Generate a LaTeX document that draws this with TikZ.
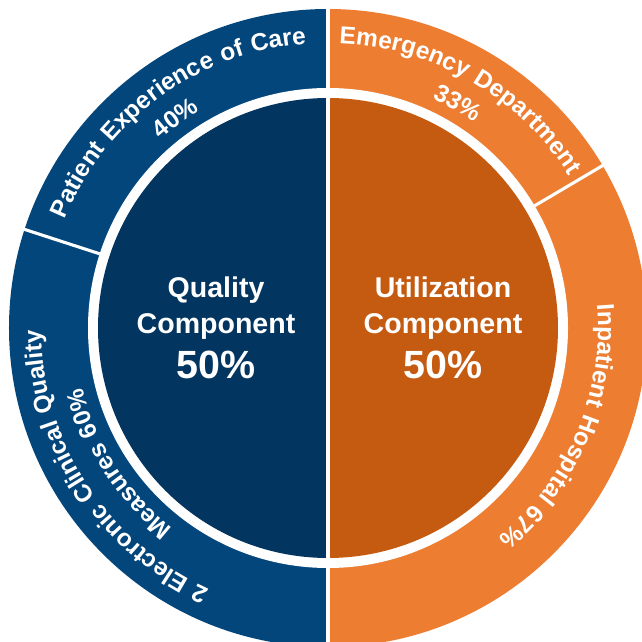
\documentclass[tikz,border=0pt]{standalone}
\usepackage{fontspec}
\setmainfont{Liberation Sans}
\newfontfamily\ringfont[LetterSpace=6]{Liberation Sans}
\newcommand\ringsize{\ringfont\bfseries\fontsize{17.4}{21}\selectfont}
\usetikzlibrary{decorations.text}

\begin{document}
\begin{tikzpicture}[x=0.025cm,y=0.025cm,
  midtext/.style={text=white,font=\bfseries\fontsize{20.3}{24}\selectfont,anchor=base,inner sep=0pt},
  bigtext/.style={midtext,font=\bfseries\fontsize{28}{32}\selectfont},
  ringtext/.style={decorate,decoration={text along path,text align=center,text color=white,text={#1}}},
  gap/.style={draw=white,line width=2.2pt}]
%
\useasboundingbox (-328,-314) rectangle (314,328);
%
\definecolor{cq0}{HTML}{023660}
\definecolor{cq1}{HTML}{03467C}
\definecolor{cu0}{HTML}{C55A11}
\definecolor{cu1}{HTML}{ED7D31}
%
\coordinate (c) at (0,0);
\fill[cq1] (c) -- (90:319) arc[start angle=90,end angle=270,radius=319] -- cycle;
\fill[cu1] (c) -- (-90:319) arc[start angle=-90,end angle=90,radius=319] -- cycle;
\fill[white] (c) circle[radius=240];
\fill[cq0] (c) -- (90:230) arc[start angle=90,end angle=270,radius=230] -- cycle;
\fill[cu0] (c) -- (-90:230) arc[start angle=-90,end angle=90,radius=230] -- cycle;
%
\draw[gap] (90:325) -- (-90:325);
\draw[gap] (162:240) -- (162:325);
\draw[gap] (30.6:240) -- (30.6:325);
%
\path[ringtext={|\ringsize|Patient Experience of Care}] (171:285) arc[start angle=171,end angle=81,radius=285];
\path[ringtext={|\ringsize|40{\%}}] (156:252) arc[start angle=156,end angle=96,radius=252];
\path[ringtext={|\ringsize|Emergency Department}] (105:285) arc[start angle=105,end angle=15,radius=285];
\path[ringtext={|\ringsize|33{\%}}] (90:252) arc[start angle=90,end angle=30,radius=252];
\path[ringtext={|\ringsize|2 Electronic Clinical Quality}] (263:287) arc[start angle=263,end angle=163,radius=287];
\path[ringtext={|\ringsize|Measures 60{\%}}] (258:253) arc[start angle=258,end angle=168,radius=253];
\path[ringtext={|\ringsize|Inpatient Hospital 67{\%}}] (27:270) arc[start angle=27,end angle=-73,radius=270];
%
\node[midtext] (q1) at (-112,30) {Quality};
\node[midtext] (q2) at (-112,-6) {Component};
\node[bigtext] (q3) at (-112,-51) {50\%};
\node[midtext] (u1) at (115,30) {Utilization};
\node[midtext] (u2) at (115,-6) {Component};
\node[bigtext] (u3) at (115,-51) {50\%};
%
\end{tikzpicture}
\end{document}
